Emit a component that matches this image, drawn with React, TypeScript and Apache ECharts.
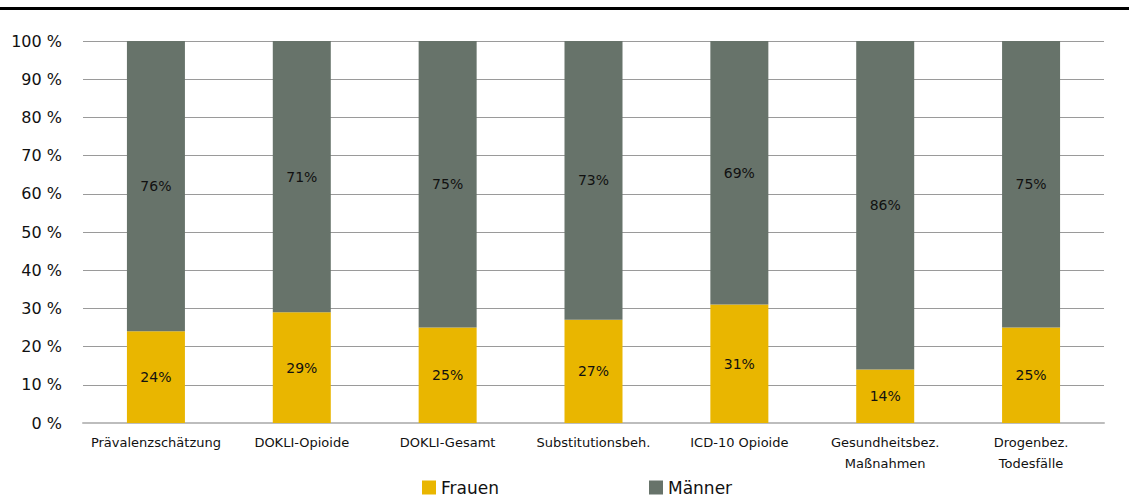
import React, { useEffect, useRef } from "react";
import * as echarts from "echarts";

const categories = [
  "Prävalenzschätzung",
  "DOKLI-Opioide",
  "DOKLI-Gesamt",
  "Substitutionsbeh.",
  "ICD-10 Opioide",
  "Gesundheitsbez.\nMaßnahmen",
  "Drogenbez.\nTodesfälle",
];
const frauen = [24, 29, 25, 27, 31, 14, 25];
const maenner = [76, 71, 75, 73, 69, 86, 75];
const seriesNames = ["Frauen", "Männer"];
const yTicks = { min: 0, max: 100, interval: 10 };

const FONT = "DejaVu Sans";
const YELLOW = "#E9B600";
const GRAY = "#67736A";

export default function App() {
  const ref = useRef<HTMLDivElement>(null);
  useEffect(() => {
    if (!ref.current) return;
    const chart = echarts.init(ref.current, undefined, { renderer: "svg" });
    const label = {
      show: true,
      position: "inside",
      color: "#111",
      fontFamily: FONT,
      fontSize: 14,
      formatter: (p: any) => `${p.value}%`,
    };
    const legendBase = {
      top: 479,
      icon: "rect",
      itemWidth: 14,
      itemHeight: 14,
      itemGap: 5,
      padding: 0,
      textStyle: { fontFamily: FONT, fontSize: 17, color: "#111" },
    };
    chart.setOption({
      animation: false,
      textStyle: { fontFamily: FONT },
      grid: { left: 83, right: 25, top: 41, bottom: 74, containLabel: false },
      graphic: [
        {
          type: "rect",
          shape: { x: 0, y: 7, width: 1129, height: 3 },
          style: { fill: "#000" },
          silent: true,
        },
      ],
      legend: [
        { ...legendBase, data: [seriesNames[0]], left: 422 },
        { ...legendBase, data: [seriesNames[1]], left: 649 },
      ],
      xAxis: {
        type: "category",
        data: categories,
        axisLine: { show: true, lineStyle: { color: "#BDBDBD", width: 2 } },
        axisTick: { show: false },
        axisLabel: {
          interval: 0,
          fontFamily: FONT,
          fontSize: 13,
          lineHeight: 21,
          color: "#111",
          margin: 9,
        },
      },
      yAxis: {
        type: "value",
        min: yTicks.min,
        max: yTicks.max,
        interval: yTicks.interval,
        axisLine: { show: false },
        axisTick: { show: false },
        splitLine: { show: true, lineStyle: { color: "#9A9A9A", width: 1 } },
        axisLabel: {
          formatter: "{value} %",
          fontFamily: FONT,
          fontSize: 16,
          color: "#111",
          margin: 21,
        },
      },
      series: [
        {
          name: seriesNames[0],
          type: "bar",
          stack: "total",
          data: frauen,
          barWidth: 58,
          itemStyle: { color: YELLOW },
          label,
        },
        {
          name: seriesNames[1],
          type: "bar",
          stack: "total",
          data: maenner,
          barWidth: 58,
          itemStyle: { color: GRAY },
          label,
        },
      ],
    });
    return () => chart.dispose();
  }, []);
  return (
    <div
      ref={ref}
      style={{ position: "absolute", left: 0, top: 0, width: 1129, height: 497 }}
    />
  );
}
